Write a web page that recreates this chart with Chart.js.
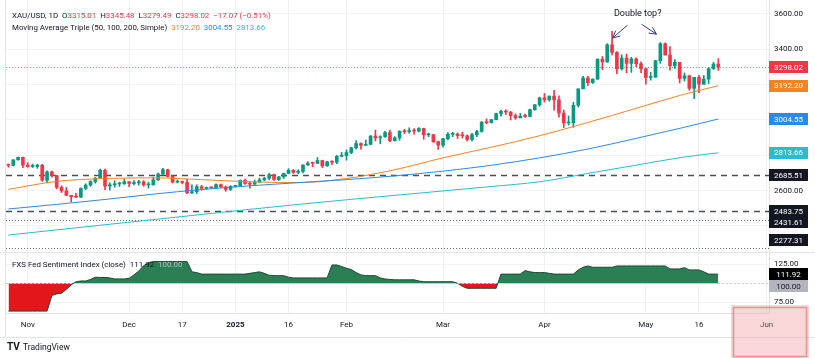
<!DOCTYPE html>
<html><head><meta charset="utf-8">
<script src="https://cdn.jsdelivr.net/npm/chart.js@4.4.1/dist/chart.umd.min.js"></script>
<style>html,body{margin:0;padding:0;background:#fff;}canvas{display:block}</style>
</head><body>
<canvas id="c" width="815" height="358"></canvas>
<script>
// ---------- DATA ----------
const dates = [
'Oct 28','Oct 29','Oct 30','Oct 31',
'Nov 1','Nov 4','Nov 5','Nov 6','Nov 7','Nov 8','Nov 11','Nov 12','Nov 13','Nov 14','Nov 15','Nov 18','Nov 19','Nov 20','Nov 21','Nov 22','Nov 25','Nov 26','Nov 27','Nov 28','Nov 29',
'Dec 2','Dec 3','Dec 4','Dec 5','Dec 6','Dec 9','Dec 10','Dec 11','Dec 12','Dec 13','Dec 16','Dec 17','Dec 18','Dec 19','Dec 20','Dec 23','Dec 24','Dec 25','Dec 26','Dec 27','Dec 30','Dec 31',
'Jan 1','Jan 2','Jan 3','Jan 6','Jan 7','Jan 8','Jan 9','Jan 10','Jan 13','Jan 14','Jan 15','Jan 16','Jan 17','Jan 20','Jan 21','Jan 22','Jan 23','Jan 24','Jan 27','Jan 28','Jan 29','Jan 30','Jan 31',
'Feb 3','Feb 4','Feb 5','Feb 6','Feb 7','Feb 10','Feb 11','Feb 12','Feb 13','Feb 14','Feb 17','Feb 18','Feb 19','Feb 20','Feb 21','Feb 24','Feb 25','Feb 26','Feb 27','Feb 28',
'Mar 3','Mar 4','Mar 5','Mar 6','Mar 7','Mar 10','Mar 11','Mar 12','Mar 13','Mar 14','Mar 17','Mar 18','Mar 19','Mar 20','Mar 21','Mar 24','Mar 25','Mar 26','Mar 27','Mar 28','Mar 31',
'Apr 1','Apr 2','Apr 3','Apr 4','Apr 7','Apr 8','Apr 9','Apr 10','Apr 11','Apr 14','Apr 15','Apr 16','Apr 17','Apr 21','Apr 22','Apr 23','Apr 24','Apr 25','Apr 28','Apr 29','Apr 30',
'May 1','May 2','May 5','May 6','May 7','May 8','May 9','May 12','May 13','May 14','May 15','May 16','May 19','May 20','May 21','May 22'];
const futureDates = ['May 23','May 26','May 27','May 28','May 29','May 30','Jun 2','Jun 3','Jun 4','Jun 5'];

const tickLabels = {'Nov 1':'Nov','Dec 2':'Dec','Dec 17':'17','Jan 1':'2025','Jan 16':'16','Feb 3':'Feb','Mar 3':'Mar','Apr 1':'Apr','May 1':'May','May 16':'16','Jun 5':'Jun'};
const priceGrid = [2400, 2600, 2800, 3000, 3200, 3400, 3600];
const priceTickLabels = [3600, 3400, 2600];
const fedGrid = [75, 100, 125];
const fedTickLabels = [125, 75];

const openP = [2747,2743,2774,2788,
2744,2736,2736,2743,2659,2706,2685,2618,2598,2573,2566,2563,2612,2631,2651,2670,2715,2626,2633,2638,2639,
2650,2640,2643,2650,2632,2633,2661,2694,2718,2680,2648,2652,2646,2587,2594,2622,2613,2618,2616,2634,2621,2606,
2624,2625,2658,2640,2636,2648,2661,2670,2690,2662,2677,2697,2715,2703,2708,2745,2755,2754,2770,2740,2763,2760,2794,
2798,2815,2842,2866,2856,2861,2908,2898,2904,2928,2882,2898,2935,2933,2939,2936,2951,2915,2916,2876,
2857,2893,2918,2920,2911,2910,2889,2916,2934,2987,2984,3001,3035,3048,3044,3023,3011,3020,3019,3057,3085,
3124,3113,3134,3113,3038,2982,2983,3082,3175,3237,3210,3230,3343,3327,3424,3381,3288,3349,3319,3344,3317,
3288,3239,3241,3334,3430,3366,3306,3325,3234,3249,3178,3240,3201,3230,3289,3315.01];
const highP = [2750,2774,2790,2790,
2758,2750,2750,2749,2711,2710,2686,2627,2618,2574,2584,2616,2639,2656,2674,2721,2721,2644,2656,2647,2666,
2651,2657,2658,2656,2648,2676,2699,2726,2721,2684,2660,2654,2664,2633,2633,2630,2620,2621,2638,2637,2625,2628,
2628,2660,2665,2649,2660,2670,2675,2698,2694,2680,2699,2724,2718,2717,2746,2764,2761,2787,2772,2766,2770,2799,2817,
2830,2845,2882,2870,2886,2911,2942,2910,2935,2942,2905,2939,2946,2955,2951,2956,2953,2925,2918,2880,
2896,2928,2930,2926,2930,2914,2923,2940,2990,3005,3002,3038,3055,3057,3047,3034,3036,3033,3060,3087,3128,
3149,3135,3167,3136,3055,3022,3099,3175,3245,3245,3232,3344,3358,3430,3500,3386,3368,3371,3353,3350,3328,
3292,3269,3336,3437,3435,3414,3340,3325,3265,3252,3240,3252,3250,3295,3325,3345.48];
const lowP = [2732,2739,2772,2730,
2732,2730,2726,2652,2643,2676,2610,2589,2571,2537,2560,2562,2605,2624,2642,2668,2605,2603,2619,2623,2634,
2622,2632,2630,2624,2614,2630,2658,2690,2677,2643,2643,2638,2583,2584,2583,2602,2608,2613,2614,2616,2596,2601,
2620,2622,2635,2614,2635,2644,2656,2661,2657,2658,2669,2695,2697,2696,2700,2742,2735,2752,2730,2736,2746,2752,2790,
2772,2809,2835,2834,2853,2858,2880,2864,2900,2876,2880,2884,2922,2924,2919,2931,2890,2905,2872,2833,
2845,2887,2905,2894,2897,2880,2880,2905,2930,2977,2982,2999,3021,3030,2999,3003,3011,3013,3016,3054,3076,
3100,3105,3054,3015,2956,2970,2957,3072,3174,3194,3205,3228,3283,3325,3366,3260,3281,3265,3268,3300,3267,
3202,3224,3240,3319,3366,3281,3291,3208,3219,3167,3120,3154,3200,3205,3285,3279.49];
const closeP = [2743,2774,2788,2744,
2736,2736,2743,2659,2706,2685,2618,2598,2573,2566,2563,2612,2631,2651,2670,2715,2626,2633,2638,2639,2650,
2640,2643,2650,2632,2633,2661,2694,2718,2680,2648,2652,2646,2587,2594,2622,2613,2618,2616,2634,2621,2606,2624,
2625,2658,2640,2636,2648,2661,2670,2690,2662,2677,2697,2715,2703,2708,2745,2755,2754,2770,2740,2763,2760,2794,2798,
2815,2842,2866,2856,2861,2908,2898,2904,2928,2882,2898,2935,2933,2939,2936,2951,2915,2916,2876,2857,
2893,2918,2920,2911,2910,2889,2916,2934,2987,2984,3001,3035,3048,3044,3023,3011,3020,3019,3057,3085,3124,
3113,3134,3113,3038,2982,2983,3082,3175,3237,3210,3230,3343,3327,3424,3381,3288,3349,3319,3344,3317,3288,
3239,3241,3334,3430,3366,3306,3325,3234,3249,3178,3240,3201,3230,3289,3315,3298.02];

// moving averages at a few bars (bar index -> value)
const maIdx  = [0, 10, 20, 30, 40, 50, 60, 70, 80, 90, 100, 110, 120, 130, 140, 147];
const sma50  = [2607,2652,2668,2672,2662,2650,2645,2668,2718,2785,2845,2910,2985,3065,3145,3192.20];
const sma100 = [2496,2522,2550,2580,2606,2627,2645,2662,2683,2710,2743,2785,2835,2895,2958,3004.55];
const sma200 = [2349,2378,2407,2436,2465,2494,2522,2548,2573,2598,2623,2650,2697,2744,2790,2813.66];

// FXS Fed Sentiment Index (close), one value per bar
const fedIndex = [
63.5,63.5,63.5,63.5,63.5,63.5,63.5,63.5,63.5,84,86,87,92,98,102,103,103,105,108,107.6,107.6,107,105.7,105.7,105.7,106.5,111,116,123,127,
128.5,128.5,128.5,128.5,128.5,128.5,128.5,128.5,115,114,112,112,112,112,112,112,112,112,112,112,113,114,115,113,110.5,110,110,110,108,
107,107,107,107,107,107,107,107,124,124,122,119.7,118,114,111,110,110,110,107,105.6,105,104.5,104.5,104.5,104.5,104.5,103,
102,102,102,102,102,102,102,100,96,93.4,93.4,93.4,93.4,93.4,93.4,93.4,112,112,112,112,112,116.6,115,114,114,114,113,
112,112,112,112,112,117.5,121,122.7,121,121,121,121,121,122.7,122.7,122.7,122.7,122.7,122.7,122.7,122.7,122.7,122.7,122.7,
118.8,118.8,118.8,120.5,117.5,117.5,117.5,115,112,112,111.92];

// horizontal levels
const levels      = [2685.51, 2483.75, 2431.61, 2277.31];
const levelStyles = ['dashed','dashed','dotted','dotted'];
const fedBaseline = 100;
const changeText  = '\u221217.07 (\u22120.51%)';
const annotText   = 'Double top?';
const annotAnchor = [130.3, 3600];          // [bar index, price]
const annotArrows = [[128.2, 3535, 125.1, 3462], [131.1, 3540, 134.2, 3484]];

// ---------- STYLE ----------
const FONT = 'Roboto, "Liberation Sans", Arial, sans-serif';
const UP = '#089981', DOWN = '#f23645', TXT = '#131722';
const C50 = '#f5841f', C100 = '#2a8ae6', C200 = '#2bbbd0';

const labels = dates.concat(futureDates);
const N = labels.length;
const candleCol = closeP.map((c, i) => c >= openP[i] ? UP : DOWN);
const wickData = highP.map((h, i) => [lowP[i], h]);
const bodyData = closeP.map((c, i) => [openP[i], c]);
function sparse(vals) { const a = new Array(N).fill(null); maIdx.forEach((k, j) => a[k] = vals[j]); return a; }
const fedData = fedIndex.concat(new Array(futureDates.length).fill(null));

function boxLabel(ctx, x, yc, text, bg, fg) {
  ctx.fillStyle = bg; ctx.fillRect(x, Math.round(yc - 6), 39, 12);
  ctx.fillStyle = fg; ctx.font = '8px ' + FONT; ctx.textAlign = 'center'; ctx.textBaseline = 'middle';
  ctx.fillText(text, x + 19.5, yc + 0.5);
}
function arrow(ctx, x1, y1, x2, y2) {
  ctx.beginPath(); ctx.moveTo(x1, y1); ctx.lineTo(x2, y2); ctx.stroke();
  const a = Math.atan2(y2 - y1, x2 - x1), L = 8;
  ctx.beginPath();
  ctx.moveTo(x2 - L * Math.cos(a - 0.45), y2 - L * Math.sin(a - 0.45));
  ctx.lineTo(x2, y2);
  ctx.lineTo(x2 - L * Math.cos(a + 0.45), y2 - L * Math.sin(a + 0.45));
  ctx.stroke();
}
function runs(ctx, x, y, parts) {
  parts.forEach(p => { if (p[0] === null) { x += p[1]; return; } ctx.fillStyle = p[1]; ctx.fillText(p[0], x, y); x += ctx.measureText(p[0]).width; });
}

const overlay = {
  id: 'tvOverlay',
  beforeDatasetsDraw(chart) {
    const {ctx, chartArea: ca, scales: {y, y2}} = chart;
    ctx.save();
    levels.forEach((v, i) => {
      const py = Math.round(y.getPixelForValue(v)) + 0.5;
      ctx.beginPath();
      if (levelStyles[i] === 'dashed') { ctx.setLineDash([6, 5]); ctx.strokeStyle = '#4a4e58'; ctx.lineWidth = 1.6; }
      else { ctx.setLineDash([1, 2]); ctx.strokeStyle = '#6a6d78'; ctx.lineWidth = 1; }
      ctx.moveTo(ca.left, py); ctx.lineTo(ca.right, py); ctx.stroke();
    });
    const last = closeP.length - 1;
    let py = Math.round(y.getPixelForValue(closeP[last])) + 0.5;
    ctx.setLineDash([1, 2]); ctx.strokeStyle = 'rgba(242,54,69,0.7)'; ctx.lineWidth = 1;
    ctx.beginPath(); ctx.moveTo(ca.left, py); ctx.lineTo(ca.right, py); ctx.stroke();
    ctx.restore();
  },
  afterDatasetsDraw(chart) {
    const {ctx, chartArea: ca, scales: {x, y, y2}} = chart;
    const W = chart.width;
    ctx.save();
    // 100 baseline of the indicator
    const b = Math.round(y2.getPixelForValue(fedBaseline)) + 0.5;
    ctx.setLineDash([2, 2]); ctx.strokeStyle = 'rgba(200,205,215,0.9)'; ctx.lineWidth = 1;
    ctx.beginPath(); ctx.moveTo(ca.left, b); ctx.lineTo(ca.right, b); ctx.stroke();
    ctx.setLineDash([]);
    // pane separators / borders
    ctx.strokeStyle = '#e0e3eb'; ctx.lineWidth = 1;
    ctx.beginPath(); ctx.moveTo(0, y.bottom + 0.5); ctx.lineTo(W, y.bottom + 0.5); ctx.stroke();
    ctx.beginPath(); ctx.moveTo(ca.left - 0.5, 0); ctx.lineTo(ca.left - 0.5, x.bottom); ctx.stroke();
    ctx.beginPath(); ctx.moveTo(0, x.bottom + 0.5); ctx.lineTo(W, x.bottom + 0.5); ctx.stroke();

    // axis tick labels (right price scale)
    ctx.font = '8px ' + FONT; ctx.fillStyle = TXT; ctx.textAlign = 'left'; ctx.textBaseline = 'middle';
    priceTickLabels.forEach(v => ctx.fillText(v.toFixed(2), ca.right + 5, y.getPixelForValue(v)));
    fedTickLabels.forEach(v => ctx.fillText(v.toFixed(2), ca.right + 5, y2.getPixelForValue(v)));

    // header legend
    const last = closeP.length - 1;
    ctx.font = '7.9px ' + FONT; ctx.textAlign = 'left'; ctx.textBaseline = 'middle';
    runs(ctx, 12, 16, [['XAU/USD, 1D', TXT], [null, 4], ['O', TXT], [openP[last].toFixed(2), DOWN], [null, 4],
      ['H', TXT], [highP[last].toFixed(2), DOWN], [null, 4], ['L', TXT], [lowP[last].toFixed(2), DOWN], [null, 4],
      ['C', TXT], [closeP[last].toFixed(2), DOWN], [null, 4], [changeText, DOWN]]);
    runs(ctx, 12, 28, [['Moving Average Triple (50, 100, 200, Simple)', TXT], [null, 4],
      [sma50[sma50.length - 1].toFixed(2), C50], [null, 4], [sma100[sma100.length - 1].toFixed(2), C100], [null, 4],
      [sma200[sma200.length - 1].toFixed(2), C200]]);
    runs(ctx, 12, y2.top + 13, [['FXS Fed Sentiment Index (close)', TXT], [null, 4],
      [fedIndex[fedIndex.length - 1].toFixed(2), TXT], [null, 4], [fedBaseline.toFixed(2), '#b8bcc6']]);

    // annotation
    ctx.font = '9px ' + FONT; ctx.fillStyle = TXT; ctx.textAlign = 'center';
    ctx.fillText(annotText, x.getPixelForValue(annotAnchor[0]), y.getPixelForValue(annotAnchor[1]));
    ctx.strokeStyle = '#2c3f8f'; ctx.lineWidth = 1;
    annotArrows.forEach(a => arrow(ctx, x.getPixelForValue(a[0]), y.getPixelForValue(a[1]), x.getPixelForValue(a[2]), y.getPixelForValue(a[3])));

    // price-axis boxes
    const bx = ca.right;
    const boxes = [
      [closeP[last], closeP[last].toFixed(2), DOWN, '#fff'],
      [sma50[sma50.length - 1], sma50[sma50.length - 1].toFixed(2), C50, '#fff'],
      [sma100[sma100.length - 1], sma100[sma100.length - 1].toFixed(2), C100, '#fff'],
      [sma200[sma200.length - 1], sma200[sma200.length - 1].toFixed(2), C200, '#fff'],
    ].concat(levels.map(v => [v, v.toFixed(2), '#131722', '#fff']));
    boxes.sort((p, q) => q[0] - p[0]);
    let prev = -1e9;
    boxes.forEach(bo => {
      let yc = y.getPixelForValue(bo[0]);
      if (yc < prev + 11) yc = prev + 11;
      yc = Math.min(yc, y.bottom - 12);
      prev = yc;
      boxLabel(ctx, bx, yc, bo[1], bo[2], bo[3]);
    });
    let f1 = y2.getPixelForValue(fedIndex[fedIndex.length - 1]);
    let f2 = Math.max(y2.getPixelForValue(fedBaseline), f1 + 12);
    boxLabel(ctx, bx, f1, fedIndex[fedIndex.length - 1].toFixed(2), '#000', '#fff');
    boxLabel(ctx, bx, f2, fedBaseline.toFixed(2), '#b2b5be', '#131722');

    // footer
    ctx.textAlign = 'left'; ctx.textBaseline = 'middle'; ctx.fillStyle = TXT;
    ctx.font = 'bold 10px ' + FONT; ctx.fillText('TV', 7, 347);
    ctx.font = '8.5px ' + FONT; ctx.fillText('TradingView', 23, 347.5);

    // watermark stamp
    ctx.fillStyle = 'rgba(232,140,140,0.35)';
    ctx.fillRect(731, 305, 78, 53);
    ctx.strokeStyle = 'rgba(220,90,90,0.55)'; ctx.lineWidth = 1.5;
    ctx.strokeRect(733.5, 307.5, 73, 49);
    ctx.restore();
  }
};

new Chart(document.getElementById('c'), {
  type: 'bar',
  data: {
    labels,
    datasets: [
      { type: 'line', data: fedData, yAxisID: 'y2', borderColor: '#1f4a34', borderWidth: 1, pointRadius: 0,
        fill: { value: fedBaseline, above: '#2b7f55', below: '#e3161c' }, tension: 0, order: 6 },
      { data: wickData, backgroundColor: candleCol, barThickness: 1, grouped: false, yAxisID: 'y', order: 4 },
      { data: bodyData, backgroundColor: candleCol, barThickness: 3, minBarLength: 1, grouped: false, yAxisID: 'y', order: 3 },
      { type: 'line', data: sparse(sma200), yAxisID: 'y', borderColor: C200, borderWidth: 1, pointRadius: 0, spanGaps: true, cubicInterpolationMode: 'monotone', order: 1 },
      { type: 'line', data: sparse(sma100), yAxisID: 'y', borderColor: C100, borderWidth: 1, pointRadius: 0, spanGaps: true, cubicInterpolationMode: 'monotone', order: 1 },
      { type: 'line', data: sparse(sma50), yAxisID: 'y', borderColor: C50, borderWidth: 1, pointRadius: 0, spanGaps: true, cubicInterpolationMode: 'monotone', order: 1 }
    ]
  },
  options: {
    responsive: false, animation: false, devicePixelRatio: 1,
    layout: { padding: { left: 6, right: 0, top: 0, bottom: 21 } },
    plugins: { legend: { display: false }, tooltip: { enabled: false } },
    scales: {
      x: {
        type: 'category', offset: true,
        grid: { offset: false, drawTicks: false, color: c => (tickLabels[labels[c.index]] ? '#eef0f4' : 'rgba(0,0,0,0)') },
        border: { display: true, color: '#e0e3eb' },
        ticks: { autoSkip: false, maxRotation: 0, minRotation: 0, padding: 7, color: TXT,
          callback: (v, i) => tickLabels[labels[i]] || '',
          font: c => ({ family: FONT, size: 8, weight: (c.tick && c.tick.label === '2025') ? 'bold' : 'normal' }) },
        afterFit: s => { s.height = 24; }
      },
      y: {
        position: 'right', stack: 'v', stackWeight: 252, min: 2253, max: 3677,
        grid: { drawTicks: false, color: '#f1f3f7' },
        border: { display: true, color: '#e0e3eb' },
        ticks: { display: false },
        afterBuildTicks: s => { s.ticks = priceGrid.map(v => ({ value: v })); },
        afterFit: s => { s.width = 46; }
      },
      y2: {
        position: 'right', stack: 'v', stackWeight: 61, min: 61, max: 141,
        grid: { drawTicks: false, color: '#f1f3f7' },
        border: { display: true, color: '#e0e3eb' },
        ticks: { display: false },
        afterBuildTicks: s => { s.ticks = fedGrid.map(v => ({ value: v })); },
        afterFit: s => { s.width = 46; }
      }
    }
  },
  plugins: [overlay]
});
</script>
</body></html>
